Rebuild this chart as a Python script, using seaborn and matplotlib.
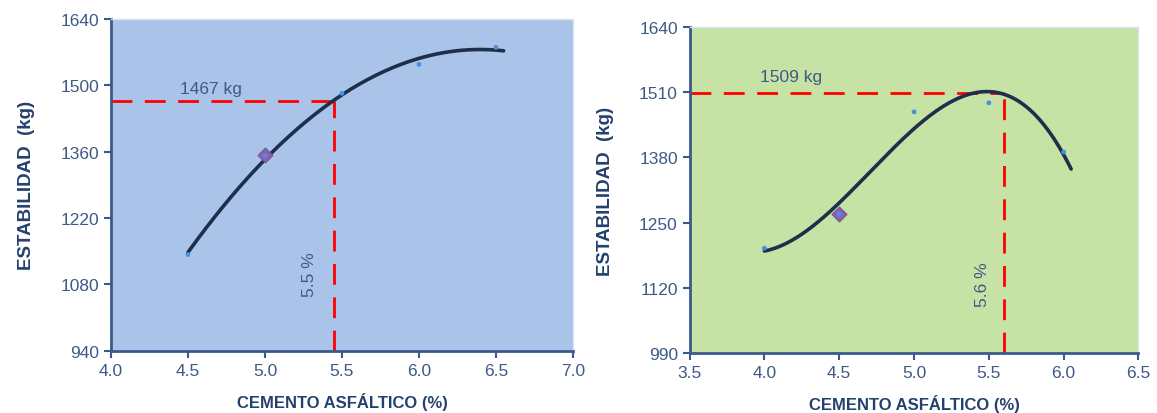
import numpy as np
import pandas as pd
import matplotlib
matplotlib.use("Agg")
import matplotlib.pyplot as plt
import seaborn as sns

# Marshall stability vs asphalt cement content
ac_left = [4.5, 5.0, 5.5, 6.0, 6.5]
stab_left = [1143, 1352, 1483, 1544, 1580]
ac_right = [4.0, 4.5, 5.0, 5.5, 6.0]
stab_right = [1199, 1267, 1471, 1489, 1391]

# highlighted specimen on each chart
mark_left = (5.0, 1352)
mark_right = (4.5, 1267)

# design values
opt_left = (5.45, 1467)
opt_right = (5.6, 1509)

yticks_left = [940, 1080, 1220, 1360, 1500, 1640]
yticks_right = [990, 1120, 1250, 1380, 1510, 1640]
xticks_left = [4.0, 4.5, 5.0, 5.5, 6.0, 6.5, 7.0]
xticks_right = [3.5, 4.0, 4.5, 5.0, 5.5, 6.0, 6.5]

sns.set_theme(style="white")
plt.rcParams["font.family"] = ["Liberation Sans", "DejaVu Sans"]

TICK_C = "#3E5A85"
TITLE_C = "#24416E"
SPINE_C = "#3A5A8C"
CURVE_C = "#1E2F4C"
DOT_C = "#4A8FE0"
RED = "#FF0000"

fig = plt.figure(figsize=(11.57, 4.14), dpi=100)
ax1 = fig.add_axes([0.0959, 0.150, 0.3993, 0.802])
ax2 = fig.add_axes([0.5960, 0.145, 0.3880, 0.787])


def draw(ax, xs, ys, deg, xr, mark, opt, yticks, xticks, bg, lbl_pos, pct_pos):
    ax.set_facecolor(bg)
    df = pd.DataFrame({"ac": xs, "stab": ys})
    coef = np.polyfit(df["ac"], df["stab"], deg)
    xx = np.linspace(xr[0], xr[1], 200)
    trend = pd.DataFrame({"ac": xx, "stab": np.polyval(coef, xx)})
    sns.lineplot(data=trend, x="ac", y="stab", ax=ax, color=CURVE_C,
                 linewidth=2.6, zorder=3)
    ax.scatter([mark[0]], [mark[1]], marker="D", s=55, color="#8A62B0",
               edgecolor="#7A58A0", zorder=4)
    sns.scatterplot(data=df, x="ac", y="stab", ax=ax, color=DOT_C, s=12,
                    edgecolor="none", zorder=5)
    ax.plot([xticks[0], opt[0]], [opt[1], opt[1]], color=RED, lw=2,
            dashes=(7.5, 4.5), zorder=2)
    ax.plot([opt[0], opt[0]], [yticks[0], opt[1]], color=RED, lw=2,
            dashes=(7.5, 4.5), zorder=2)
    ax.text(lbl_pos[0], lbl_pos[1], f"{opt[1]} kg", color=TICK_C,
            fontsize=12.5, ha="left", va="bottom")
    ax.text(pct_pos[0], pct_pos[1], f"{opt[0]:.1f} %", color=TICK_C,
            fontsize=12.5, rotation=90, ha="center", va="center")

    ax.set_xlim(xticks[0], xticks[-1])
    ax.set_ylim(yticks[0], yticks[-1])
    ax.set_xticks(xticks)
    ax.set_xticklabels([f"{t:.1f}" for t in xticks])
    ax.set_yticks(yticks)
    ax.set_yticklabels([str(t) for t in yticks])
    ax.tick_params(axis="both", colors=SPINE_C, labelcolor=TICK_C,
                   labelsize=12.5, direction="out", length=5, width=1.5,
                   bottom=True, left=True)
    for side in ("top", "right"):
        ax.spines[side].set_color("#D8E4F0")
        ax.spines[side].set_linewidth(1)
    for side in ("left", "bottom"):
        ax.spines[side].set_color(SPINE_C)
        ax.spines[side].set_linewidth(2)
    ax.set_xlabel("CEMENTO ASFÁLTICO (%)", color=TITLE_C, fontsize=12,
                  fontweight="bold", labelpad=10)
    ax.set_ylabel("ESTABILIDAD  (kg)", color=TITLE_C, fontsize=13.5,
                  fontweight="bold", labelpad=18)


draw(ax1, ac_left, stab_left, 2, (4.5, 6.55), mark_left, opt_left,
     yticks_left, xticks_left, "#A9C4E8", (4.45, 1478), (5.29, 1102))
draw(ax2, ac_right, stab_right, 3, (4.0, 6.05), mark_right, opt_right,
     yticks_right, xticks_right, "#C6E2A5", (3.97, 1527), (5.46, 1128))

fig.savefig("out.png", dpi=100)
